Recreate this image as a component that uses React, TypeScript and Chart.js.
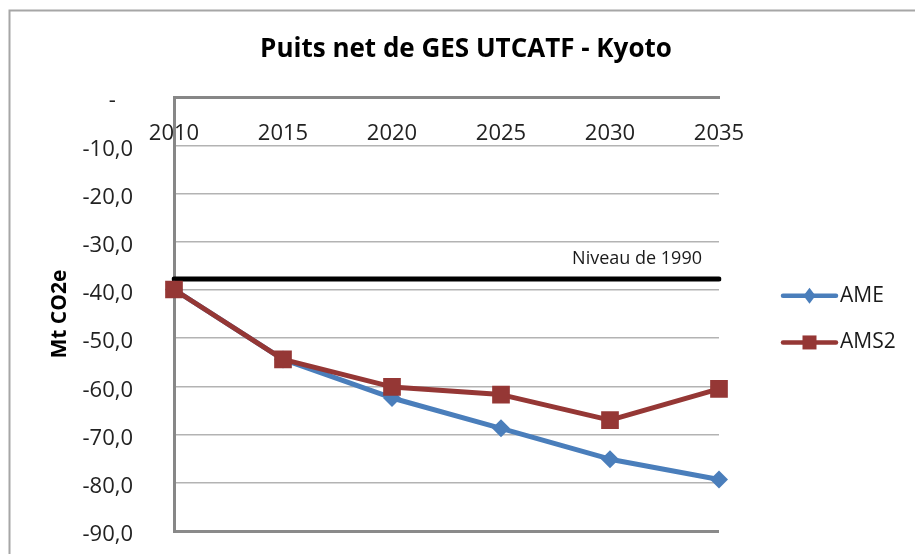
import React, { useEffect, useRef } from 'react';
import { Chart, registerables } from 'chart.js';

Chart.register(...registerables);

const chartTitle = 'Puits net de GES UTCATF - Kyoto';
const yAxisTitle = 'Mt CO2e';
const years = ['2010', '2015', '2020', '2025', '2030', '2035'];
const ameValues = [-39.9, -54.4, -62.4, -68.7, -75.1, -79.3];
const ams2Values = [-39.9, -54.4, -60.1, -61.7, -67.0, -60.5];
const level1990Value = -37.7;
const level1990Label = 'Niveau de 1990';
const yMin = -90;
const yMax = 0;
const yStep = 10;

const FONT = '"Open Sans", "DejaVu Sans", sans-serif';
const AME_COLOR = '#4a7ebb';
const AMS2_COLOR = '#953735';

const framePlugin = {
  id: 'frame',
  beforeDraw(chart: any) {
    const { ctx, width, height } = chart;
    ctx.save();
    ctx.strokeStyle = '#a6a6a6';
    ctx.lineWidth = 2;
    ctx.beginPath();
    ctx.moveTo(9.5, height);
    ctx.lineTo(9.5, 10.5);
    ctx.lineTo(width, 10.5);
    ctx.stroke();
    ctx.restore();
  },
};

const levelLabelPlugin = {
  id: 'levelLabel',
  afterDatasetsDraw(chart: any) {
    const { ctx, chartArea, scales } = chart;
    const y = scales.y.getPixelForValue(level1990Value) - 20;
    ctx.save();
    ctx.font = `18px ${FONT}`;
    ctx.fillStyle = '#1a1a1a';
    ctx.textAlign = 'right';
    ctx.textBaseline = 'middle';
    ctx.fillText(level1990Label, chartArea.right - 17, y);
    ctx.restore();
  },
};

const sideLegendPlugin = {
  id: 'sideLegend',
  afterDraw(chart: any) {
    const { ctx, chartArea } = chart;
    const items = chart.data.datasets
      .filter((d: any) => d.legendOrder !== undefined)
      .sort((a: any, b: any) => a.legendOrder - b.legendOrder);
    const cy = (chartArea.top + chartArea.bottom) / 2 + 5;
    const gap = 46.7;
    const x0 = chartArea.right + 64;
    const x1 = chartArea.right + 117;
    const xm = (x0 + x1) / 2;
    items.forEach((d: any, i: number) => {
      const y = cy - gap / 2 + i * gap;
      ctx.save();
      ctx.strokeStyle = d.borderColor;
      ctx.lineWidth = 4.5;
      ctx.lineCap = 'round';
      ctx.beginPath();
      ctx.moveTo(x0, y);
      ctx.lineTo(x1, y);
      ctx.stroke();
      ctx.fillStyle = d.pointBackgroundColor;
      ctx.beginPath();
      if (d.pointStyle === 'rectRot') {
        ctx.moveTo(xm, y - 8);
        ctx.lineTo(xm + 6, y);
        ctx.lineTo(xm, y + 8);
        ctx.lineTo(xm - 6, y);
        ctx.closePath();
      } else {
        ctx.rect(xm - 7, y - 7, 14, 14);
      }
      ctx.fill();
      ctx.font = `21px ${FONT}`;
      ctx.fillStyle = '#1a1a1a';
      ctx.textAlign = 'left';
      ctx.textBaseline = 'middle';
      ctx.fillText(d.label, x1 + 4, y);
      ctx.restore();
    });
  },
};

export default function App() {
  const canvasRef = useRef<HTMLCanvasElement | null>(null);

  useEffect(() => {
    const canvas = canvasRef.current;
    if (!canvas) return;
    const chart = new Chart(canvas, {
      type: 'line',
      data: {
        labels: years,
        datasets: [
          {
            label: 'AMS2',
            data: ams2Values,
            borderColor: AMS2_COLOR,
            backgroundColor: AMS2_COLOR,
            pointBackgroundColor: AMS2_COLOR,
            pointBorderColor: AMS2_COLOR,
            pointStyle: 'rect',
            pointRadius: 12.5,
            pointBorderWidth: 0,
            borderWidth: 5,
            borderJoinStyle: 'round',
            borderCapStyle: 'round',
            tension: 0,
            order: 0,
            legendOrder: 1,
          } as any,
          {
            label: 'AME',
            data: ameValues,
            borderColor: AME_COLOR,
            backgroundColor: AME_COLOR,
            pointBackgroundColor: AME_COLOR,
            pointBorderColor: AME_COLOR,
            pointStyle: 'rectRot',
            pointRadius: 9,
            pointBorderWidth: 0,
            borderWidth: 5,
            borderJoinStyle: 'round',
            borderCapStyle: 'round',
            tension: 0,
            order: 1,
            legendOrder: 0,
          } as any,
          {
            label: level1990Label,
            data: years.map(() => level1990Value),
            borderColor: '#000000',
            backgroundColor: '#000000',
            borderWidth: 5,
            borderCapStyle: 'round',
            pointRadius: 0,
            pointHoverRadius: 0,
            tension: 0,
            order: 2,
          } as any,
        ],
      },
      options: {
        responsive: false,
        animation: false,
        devicePixelRatio: 1,
        layout: { padding: { left: 17, top: 0, right: 0, bottom: 23 } },
        plugins: {
          legend: { display: false },
          tooltip: { enabled: false },
          title: {
            display: true,
            text: chartTitle,
            color: '#000000',
            font: { family: FONT, size: 26, weight: 'bold', lineHeight: 1.2 },
            padding: { top: 34, bottom: 32 },
          },
        },
        scales: {
          x: {
            type: 'category',
            position: { y: 0 } as any,
            offset: false,
            grid: { display: false, drawTicks: false },
            border: { display: true, color: '#878787', width: 3 },
            ticks: {
              padding: 23,
              color: '#222222',
              font: { family: FONT, size: 22 },
              maxRotation: 0,
              autoSkip: false,
            },
          },
          y: {
            type: 'linear',
            position: 'left',
            min: yMin,
            max: yMax,
            ticks: {
              stepSize: yStep,
              padding: 3,
              color: '#222222',
              font: { family: FONT, size: 22, lineHeight: '8px' },
              callback: (v: any) => ['', Number(v) === 0 ? '-   ' : Number(v).toFixed(1).replace('.', ',')],
            },
            grid: {
              drawTicks: true,
              tickLength: 38,
              tickColor: 'rgba(0,0,0,0)',
              color: (c: any) => (c.tick && c.tick.value === yMin ? '#8a8a8a' : '#b3b3b3'),
              lineWidth: (c: any) => (c.tick && c.tick.value === yMin ? 3 : 1.6),
            },
            border: { display: true, color: '#878787', width: 3 },
            title: {
              display: true,
              text: yAxisTitle,
              color: '#000000',
              font: { family: FONT, size: 21, weight: 'bold', lineHeight: 1.2 },
              padding: { top: 30, bottom: 0 },
            },
            afterFit: (s: any) => {
              s.width = 157;
            },
          },
          yRight: {
            type: 'linear',
            axis: 'y',
            position: 'right',
            grid: { display: false, drawTicks: false },
            border: { display: false },
            ticks: { display: false },
            afterFit: (s: any) => {
              s.width = 196;
            },
          } as any,
        },
      },
      plugins: [framePlugin, levelLabelPlugin, sideLegendPlugin],
    });
    return () => chart.destroy();
  }, []);

  return (
    <div style={{ position: 'fixed', left: 0, top: 0, width: 915, height: 554, background: '#ffffff' }}>
      <canvas ref={canvasRef} width={915} height={554} style={{ display: 'block' }} />
    </div>
  );
}
